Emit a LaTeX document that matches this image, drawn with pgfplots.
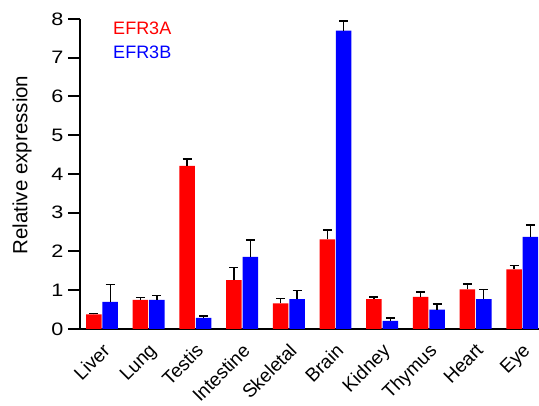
\documentclass[border=0pt]{standalone}
\usepackage{pgfplots}
\usepackage{pgfplotstable}
\pgfplotsset{compat=1.18}
\usepackage{fontspec}
\setmainfont{Liberation Sans}
\definecolor{cred}{RGB}{255,0,0}
\definecolor{cblue}{RGB}{0,0,255}
\pgfplotstableread{
x A eA B eB
0 0.38 0.02 0.70 0.45
1 0.75 0.07 0.75 0.11
2 4.21 0.18 0.29 0.05
3 1.26 0.32 1.86 0.44
4 0.66 0.12 0.77 0.23
5 2.31 0.24 7.70 0.25
6 0.77 0.06 0.21 0.07
7 0.83 0.12 0.50 0.15
8 1.02 0.14 0.77 0.25
9 1.54 0.10 2.38 0.30
}\datatable
\begin{document}
\begin{tikzpicture}
\path[use as bounding box] (-80pt,-77pt) rectangle (459pt,329pt);
\begin{axis}[
  at={(0pt,0pt)}, anchor=south west,
  scale only axis, width=459pt, height=310pt,
  xmin=-0.471, xmax=9.358, ymin=0, ymax=8,
  axis lines=left,
  axis line style={line width=2pt, -},
  clip mode=individual,
  ybar, bar width=0.332,
  ytick={0,...,8},
  xtick={0,...,9},
  xticklabels={Liver,Lung,Testis,Intestine,Skeletal,Brain,Kidney,Thymus,Heart,Eye},
  xtick style={draw=none},
  minor xtick={0,...,9},
  minor tick length=8pt,
  major tick length=12pt,
  tick align=outside,
  tick style={line width=2pt, black},
  yticklabel={\scalebox{1.2}[1]{\pgfmathprintnumber{\tick}}},
  /pgf/number format/assume math mode=true,
  yticklabel style={font=\fontsize{18}{21}\selectfont, xshift=-1pt},
  xticklabel style={font=\fontsize{19}{22}\selectfont, rotate=45, anchor=north east, xshift=2pt, yshift=3pt},
  ylabel={Relative expression},
  ylabel style={font=\fontsize{20.5}{24}\selectfont, at={(axis description cs:-0.126,0.529)}, anchor=center},
]
\addplot[fill=cred, draw=none, bar shift=-0.176,
  error bars/.cd, y dir=plus, y explicit,
  error bar style={line width=1.4pt, black},
  error mark options={rotate=90, mark size=4.5pt, line width=1.4pt, black}]
  table[x=x, y=A, y error=eA] {\datatable};
\addplot[fill=cblue, draw=none, bar shift=0.176,
  error bars/.cd, y dir=plus, y explicit,
  error bar style={line width=1.4pt, black},
  error mark options={rotate=90, mark size=4.5pt, line width=1.4pt, black}]
  table[x=x, y=B, y error=eB] {\datatable};
\node[anchor=west, text=cred, font=\fontsize{18}{21}\selectfont, inner sep=0pt] at (rel axis cs:0.072,0.971) {EFR3A};
\node[anchor=west, text=cblue, font=\fontsize{18}{21}\selectfont, inner sep=0pt] at (rel axis cs:0.072,0.894) {EFR3B};
\end{axis}
\end{tikzpicture}
\end{document}
